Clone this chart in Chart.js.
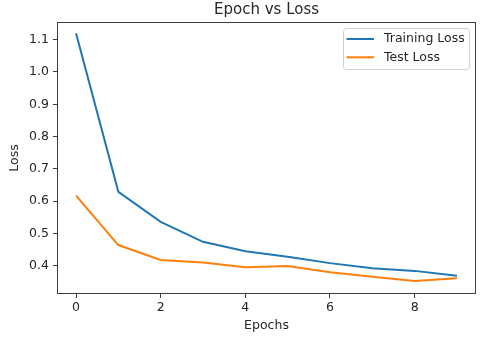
<!DOCTYPE html>
<html>
<head>
<meta charset="utf-8">
<script src="https://cdn.jsdelivr.net/npm/chart.js@4/dist/chart.umd.min.js"></script>
<style>
  html, body { margin: 0; padding: 0; background: #fff; }
  #wrap { width: 498px; height: 341px; position: relative; }
</style>
</head>
<body>
<div id="wrap"><canvas id="c" width="498" height="341"></canvas></div>
<script>
const epochs = [0, 1, 2, 3, 4, 5, 6, 7, 8, 9];
const trainingLoss = [1.120, 0.629, 0.536, 0.474, 0.445, 0.428, 0.408, 0.392, 0.384, 0.369];
const testLoss = [0.617, 0.464, 0.418, 0.410, 0.395, 0.399, 0.380, 0.366, 0.353, 0.361];
const xTicks = [0, 2, 4, 6, 8];
const yTicks = [0.4, 0.5, 0.6, 0.7, 0.8, 0.9, 1.0, 1.1];
const seriesNames = ['Training Loss', 'Test Loss'];
const titleText = 'Epoch vs Loss';
const xLabel = 'Epochs';
const yLabel = 'Loss';

const FONT = 'DejaVu Sans';
const TXT = '#262626';
const SPINE = '#3c3c3c';

const frame = {
  id: 'frame',
  afterDatasetsDraw(chart) {
    const {ctx, chartArea: a} = chart;
    ctx.save();
    ctx.strokeStyle = SPINE;
    ctx.lineWidth = 1;
    ctx.strokeRect(Math.round(a.left) + 0.5, Math.round(a.top) + 0.5,
                   Math.round(a.right - a.left) - 1, Math.round(a.bottom - a.top) - 1);
    ctx.restore();
  }
};

const mplLegend = {
  id: 'mplLegend',
  afterDraw(chart) {
    const {ctx, chartArea: a} = chart;
    const x0 = a.right - 133, y0 = a.top + 6, w = 126, h = 41;
    ctx.save();
    ctx.fillStyle = 'rgba(255,255,255,0.85)';
    ctx.strokeStyle = '#d0d0d0';
    ctx.lineWidth = 1;
    ctx.beginPath();
    ctx.roundRect(x0 + 0.5, y0 + 0.5, w, h, 3);
    ctx.fill();
    ctx.stroke();
    ctx.font = '12.5px "' + FONT + '"';
    ctx.textBaseline = 'middle';
    ctx.textAlign = 'left';
    chart.data.datasets.forEach((ds, i) => {
      const y = y0 + 11 + i * 18.3;
      ctx.strokeStyle = ds.borderColor;
      ctx.lineWidth = 2;
      ctx.beginPath();
      ctx.moveTo(x0 + 3.5, y);
      ctx.lineTo(x0 + 31, y);
      ctx.stroke();
      ctx.fillStyle = TXT;
      ctx.fillText(ds.label, x0 + 41, y);
    });
    ctx.restore();
  }
};

new Chart(document.getElementById('c'), {
  type: 'line',
  data: {
    datasets: [
      {
        label: seriesNames[0],
        data: epochs.map((e, i) => ({x: e, y: trainingLoss[i]})),
        borderColor: '#1f77b4',
        borderWidth: 2,
        pointRadius: 0,
        fill: false,
        tension: 0
      },
      {
        label: seriesNames[1],
        data: epochs.map((e, i) => ({x: e, y: testLoss[i]})),
        borderColor: '#ff7f0e',
        borderWidth: 2,
        pointRadius: 0,
        fill: false,
        tension: 0
      }
    ]
  },
  options: {
    responsive: false,
    animation: false,
    devicePixelRatio: 1,
    layout: { padding: { left: 0, right: 22, top: 0, bottom: 0 } },
    plugins: {
      legend: { display: false },
      tooltip: { enabled: false },
      title: {
        display: true,
        text: titleText,
        fullSize: false,
        color: TXT,
        font: { family: FONT, size: 15, weight: 'normal' },
        padding: { top: 1, bottom: 3 }
      }
    },
    scales: {
      x: {
        type: 'linear',
        min: -0.45,
        max: 9.45,
        afterBuildTicks(s) { s.ticks = xTicks.map(v => ({value: v})); },
        afterFit(s) { s.height = 47; },
        ticks: {
          color: TXT,
          font: { family: FONT, size: 12.5 },
          padding: 2,
          maxRotation: 0,
          callback: v => String(v)
        },
        grid: { drawOnChartArea: false, drawTicks: true, tickLength: 4, color: SPINE },
        border: { display: false },
        title: {
          display: true,
          text: xLabel,
          color: TXT,
          font: { family: FONT, size: 12.5 },
          padding: { top: 0, bottom: 7.5 }
        }
      },
      y: {
        type: 'linear',
        min: 0.3124,
        max: 1.1548,
        afterBuildTicks(s) { s.ticks = yTicks.map(v => ({value: v})); },
        afterFit(s) { s.width = 57; },
        ticks: {
          color: TXT,
          font: { family: FONT, size: 12.5 },
          padding: 4,
          callback: v => v.toFixed(1)
        },
        grid: { drawOnChartArea: false, drawTicks: true, tickLength: 4, color: SPINE },
        border: { display: false },
        title: {
          display: true,
          text: yLabel,
          color: TXT,
          font: { family: FONT, size: 12.5 },
          padding: { top: 7.5, bottom: 0 }
        }
      }
    }
  },
  plugins: [frame, mplLegend]
});
</script>
</body>
</html>
